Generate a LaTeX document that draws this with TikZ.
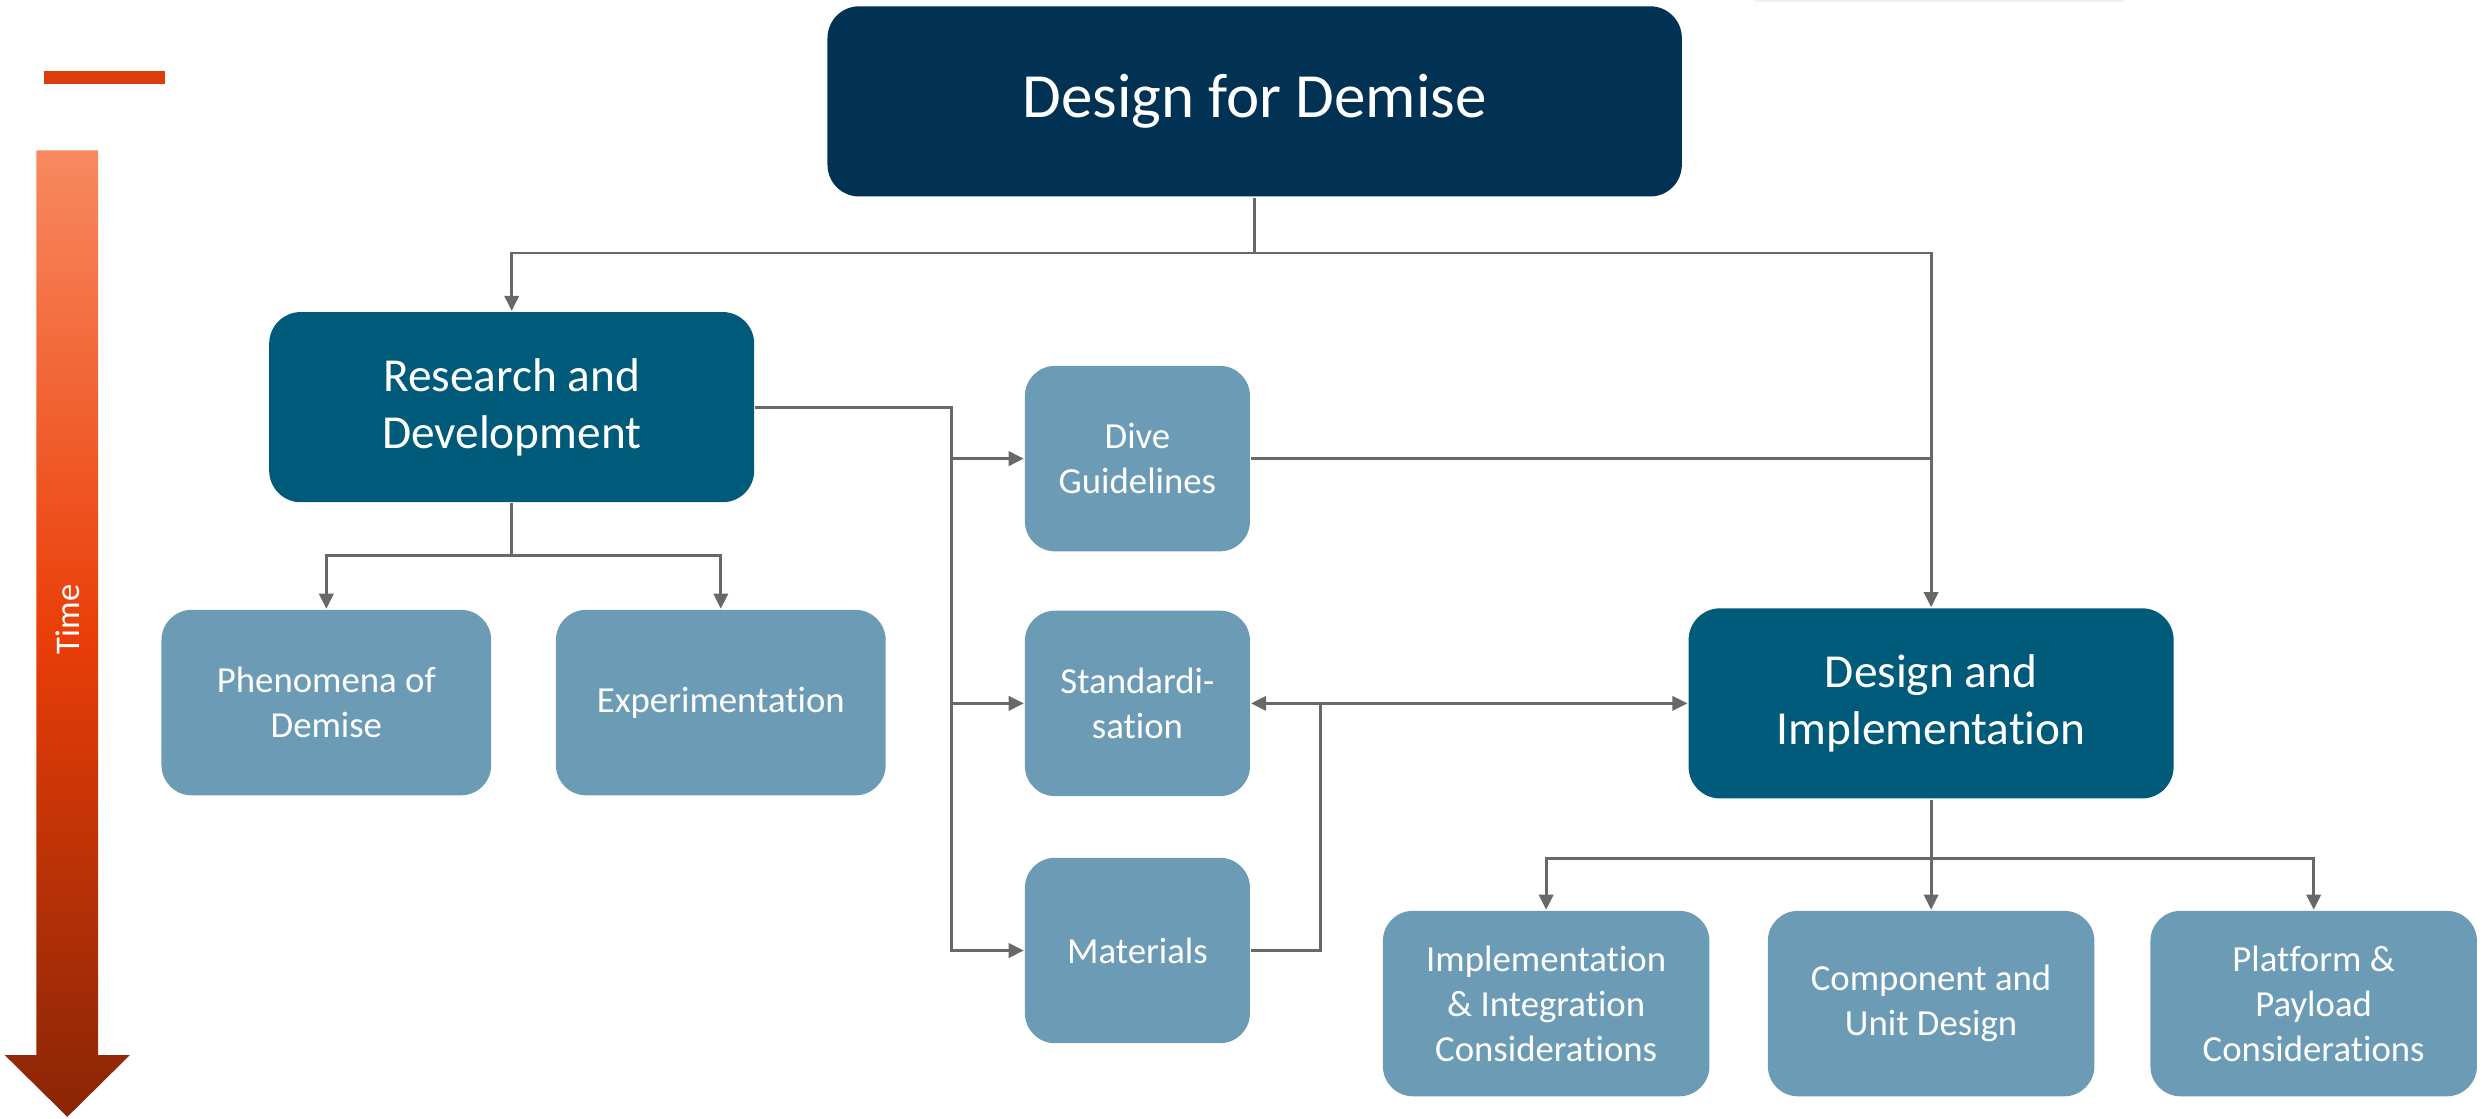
\documentclass[tikz,border=0pt]{standalone}
\usepackage{fontspec}
\setmainfont[Ligatures=NoCommon]{Carlito}
\usetikzlibrary{positioning, calc, arrows.meta}

\definecolor{navy}{HTML}{013253}
\definecolor{teal}{HTML}{005B7B}
\definecolor{pale}{HTML}{6C9BB5}
\definecolor{wire}{HTML}{686868}
\definecolor{rust}{HTML}{DC3D0A}

\tikzstyle{head} = [fill=navy, text=white, rounded corners=0.2cm,
        minimum width=5.39cm, minimum height=1.2cm,
        font=\fontsize{11.3}{13.6}\selectfont]
\tikzstyle{branch} = [fill=teal, text=white, rounded corners=0.2cm,
        minimum width=3.06cm, minimum height=1.2cm, align=center,
        font=\fontsize{8.5}{10.3}\selectfont]
\tikzstyle{leaf} = [fill=pale, text=white, rounded corners=0.19cm,
        minimum width=2.08cm, minimum height=1.17cm, align=center,
        font=\fontsize{6.6}{8.1}\selectfont]
\tikzset{link/.style={draw=wire, line width=0.5pt,
        -{Triangle[length=0.95mm, width=0.9mm]}}}

\begin{document}
\begin{tikzpicture}[x=0.01cm, y=-0.01cm]
    \useasboundingbox (0,0) rectangle (1568,706);

    % time axis on the left
    \fill[rust] (28,45) rectangle (104,53);
    \shade[top color={rgb,255:red,248;green,137;blue,96},
           bottom color={rgb,255:red,137;green,37;blue,6},
           middle color={rgb,255:red,234;green,62;blue,8}]
        (23,95) -- (62,95) -- (62,666) -- (82,666) -- (42.5,705)
        -- (3,666) -- (23,666) -- cycle;
    \node[text=white, rotate=90, font=\fontsize{6.2}{7}\selectfont] (time) at (42.5,391) {Time};
    \fill[black!6] (1108,0) rectangle (1341,1.3);

    \node [head] (top) at (792,64) {Design for Demise};
    \node [branch] (rd) at (323,257) {Research and\\Development};
    \node [branch] (di) at (1219,444) {Design and\\Implementation};

    \node [leaf] (phen) at (206,443.5) {Phenomena of\\Demise};
    \node [leaf] (exp) at (455,443.5) {Experimentation};
    \node [leaf, minimum width=1.42cm] (dive) at (718,289.5) {Dive\\Guidelines};
    \node [leaf, minimum width=1.42cm] (std) at (718,444) {Standardi-\\sation};
    \node [leaf, minimum width=1.42cm] (mat) at (718,600) {Materials};
    \node [leaf, minimum width=2.06cm] (impl) at (976,633.5) {Implementation\\\& Integration\\Considerations};
    \node [leaf, minimum width=2.06cm] (comp) at (1219,633.5) {Component and\\Unit Design};
    \node [leaf, minimum width=2.06cm] (plat) at (1460.5,633.5) {Platform \&\\Payload\\Considerations};

    \coordinate (rdbus) at ($(rd.east)+(124,0)$);
    \coordinate (matbus) at ($(mat.east)+(44,0)$);

    \draw[link] (top.south) -- ++(0,35) -| (rd.north);
    \draw[link] (top.south) -- ++(0,35) -| (di.north);
    \draw[wire, line width=0.5pt] (dive.east) -- (dive.east -| di.north);

    \draw[link] (rd.south) -- ++(0,33) -| (phen.north);
    \draw[link] (rd.south) -- ++(0,33) -| (exp.north);

    \draw[link] (rd.east) -- (rdbus) |- (mat.west);
    \draw[link] (rdbus |- dive.west) -- (dive.west);
    \draw[link] (rdbus |- std.west) -- (std.west);

    \draw[link] (mat.east) -- (matbus) |- (std.east);
    \draw[link] (matbus |- std.east) -- (di.west);

    \draw[link] (di.south) -- ++(0,37) -| (impl.north);
    \draw[link] (di.south) -- (comp.north);
    \draw[link] (di.south) -- ++(0,37) -| (plat.north);
\end{tikzpicture}
\end{document}
